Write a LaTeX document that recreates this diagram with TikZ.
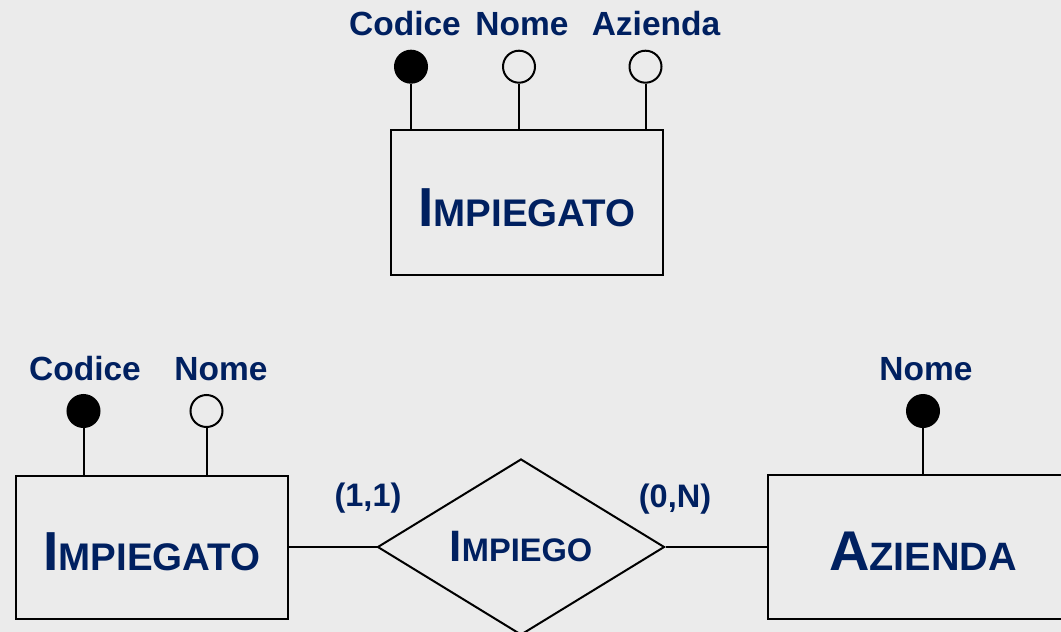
\documentclass[tikz,border=0pt]{standalone}
\usepackage{fontspec}
\setmainfont{Liberation Sans}
\usetikzlibrary{shapes.geometric}
\definecolor{bgc}{RGB}{235,235,235}
\definecolor{navy}{RGB}{0,32,96}
\newcommand{\fsz}[1]{\fontsize{#1}{#1}\selectfont}
\tikzset{
  ent/.style={draw, line width=2pt, inner sep=0pt, text depth=0pt, font=\bfseries, text=navy},
  rel/.style={draw, shape=diamond, line width=2pt, inner sep=0pt, text depth=0pt, font=\bfseries, text=navy},
  keyattr/.style={circle, draw, fill=black, line width=2pt, minimum size=32pt, inner sep=0pt},
  attr/.style={circle, draw, line width=2pt, minimum size=32pt, inner sep=0pt},
  lbl/.style={anchor=base, inner sep=0pt, text=navy, font=\fsz{33.5}\bfseries},
  conn/.style={line width=2pt}
}
\begin{document}
\begin{tikzpicture}[x=1pt,y=-1pt]
\useasboundingbox (0,0) rectangle (1061,632);
\clip (0,0) rectangle (1061,632);
\fill[bgc] (0,0) rectangle (1061,632);

% ---- top entity ----
\node[ent, minimum width=272pt, minimum height=145pt, text height=47pt] (imp1) at (527,202.5)
  {\fsz{55}I\fsz{38.5}MPIEGATO};
\node[keyattr] (t1) at (411,66.7) {};
\node[attr] (t2) at (519,66.7) {};
\node[attr] (t3) at (645.5,66.7) {};
\draw[conn] (t1.south) -- (t1.south |- imp1.north);
\draw[conn] (t2.south) -- (t2.south |- imp1.north);
\draw[conn] (t3.south) -- (t3.south |- imp1.north);
\node[lbl] (lt1) at (405,35) {Codice};
\node[lbl] (lt2) at (522,35) {Nome};
\node[lbl] (lt3) at (656,35) {Azienda};

% ---- bottom left entity ----
\node[ent, minimum width=272pt, minimum height=143pt, text height=46pt] (imp2) at (152,547)
  {\fsz{55}I\fsz{38.5}MPIEGATO};
\node[keyattr] (b1) at (83.5,411) {};
\node[attr] (b2) at (206.5,411) {};
\draw[conn] (b1.south) -- (b1.south |- imp2.north);
\draw[conn] (b2.south) -- (b2.south |- imp2.north);
\node[lbl] (lb1) at (85,380.7) {Codice};
\node[lbl] (lb2) at (221,380.7) {Nome};

% ---- relationship ----
\node[rel, minimum width=287pt, minimum height=176pt, text height=29.4pt] (r) at (521,547)
  {\fsz{44}I\fsz{32.6}MPIEGO};

% ---- right entity ----
\node[ent, minimum width=310pt, minimum height=144pt, text height=46pt] (az) at (923,547)
  {\fsz{56}A\fsz{39.6}ZIENDA};
\node[keyattr] (c1) at (923,411) {};
\draw[conn] (c1.south) -- (c1.south |- az.north);
\node[lbl] (lc1) at (926,380.7) {Nome};

% ---- connectors ----
\draw[conn] (imp2.east) -- (r.west);
\draw[conn] (r.east) -- (az.west);
\node[lbl, font=\fsz{32.5}\bfseries] (k1) at (368,506.5) {(1,1)};
\node[lbl, font=\fsz{32.5}\bfseries] (k2) at (675,507) {(0,N)};
\end{tikzpicture}
\end{document}
